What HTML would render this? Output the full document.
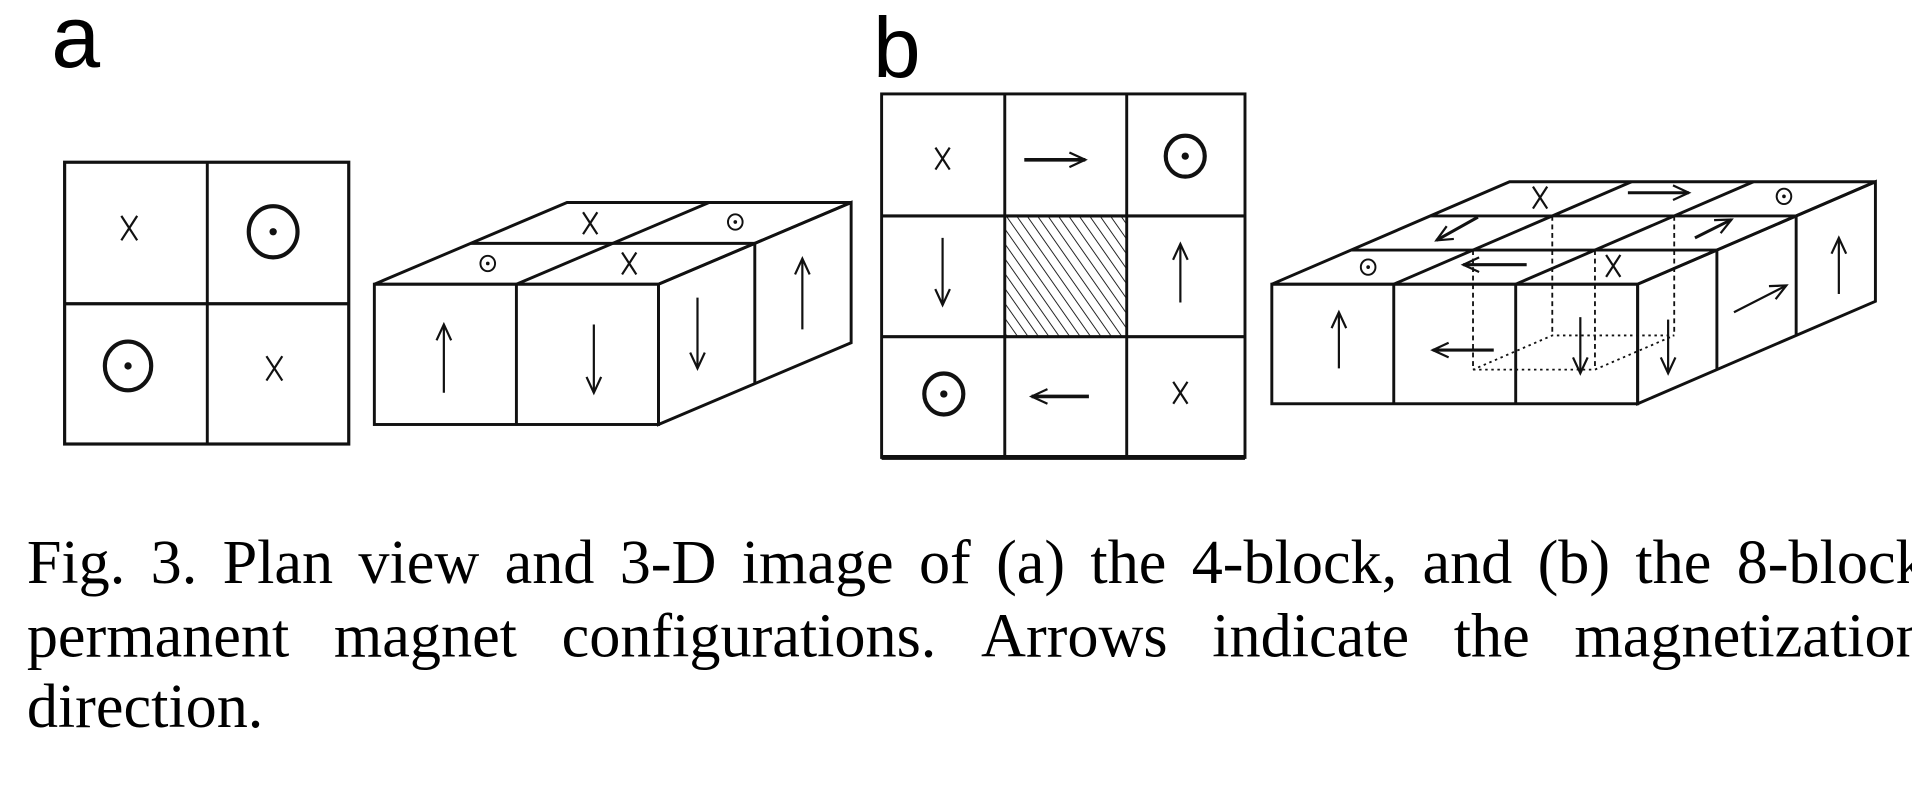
<!DOCTYPE html>
<html><head><meta charset="utf-8"><style>
html,body{margin:0;padding:0;background:#fff;}
svg{display:block;}
</style></head><body>
<svg id="fig" width="1912" height="788" viewBox="0 0 1568 646" preserveAspectRatio="none" xmlns="http://www.w3.org/2000/svg">
<defs>
<pattern id="hatch" patternUnits="userSpaceOnUse" width="7" height="7" patternTransform="rotate(-35)">
<line x1="0" y1="0" x2="0" y2="7" stroke="#222" stroke-width="1.6"/>
</pattern>
</defs>
<rect width="1568" height="646" fill="#fff"/>
<text x="42" y="55" font-family="Liberation Sans, sans-serif" font-size="72">a</text>
<text x="716" y="63" font-family="Liberation Sans, sans-serif" font-size="70">b</text>
<g id="draw" stroke="#111" fill="none" stroke-width="2.4"></g>
<g id="caption" font-family="Liberation Serif, serif" font-size="51" fill="#000"></g>
</svg>
<script>
const NS='http://www.w3.org/2000/svg';
const g=document.getElementById('draw');
function el(tag,attrs,name){const e=document.createElementNS(NS,tag);for(const k in attrs)e.setAttribute(k,attrs[k]);


g.appendChild(e);return e;}
function line(x1,y1,x2,y2,name,extra){const a={x1,y1,x2,y2};if(extra)Object.assign(a,extra);return el('line',a,name);}
function poly(pts,name,extra){const a={points:pts.map(p=>p.join(',')).join(' ')};if(extra)Object.assign(a,extra);return el('polygon',a,name);}
function arrow(x1,y1,x2,y2,name,w){
  const dx=x2-x1,dy=y2-y1,L=Math.hypot(dx,dy),ux=dx/L,uy=dy/L,h=13,s=6;
  line(x1,y1,x2,y2,name,{'stroke-width':w||1.8});
  const p=`M${x2-ux*h-uy*s},${y2-uy*h+ux*s} L${x2},${y2} L${x2-ux*h+uy*s},${y2-uy*h-ux*s}`;
  el('path',{d:p,'stroke-width':1.8},name+'-head');
}
function xmark(x,y,size,name){const s=size;line(x-s*0.65,y-s,x+s*0.65,y+s,name,{'stroke-width':1.8});line(x+s*0.65,y-s,x-s*0.65,y+s,name,{'stroke-width':1.8});}
function dot(x,y,r,name){el('ellipse',{cx:x,cy:y,rx:r,ry:r*1.05,'stroke-width':r>10?3.4:1.6},name);el('circle',{cx:x,cy:y,r:r>10?3:1.5,fill:'#111',stroke:'none'},name+'-center');}

// Panel a plan view
el('rect',{x:53,y:133,width:233,height:231,'stroke-width':2.6},'grid-a-border');
line(170,133,170,364,'grid-a-divider-v');line(53,249,286,249,'grid-a-divider-h',{'stroke-width':2.6});
xmark(106,187,10,'grid-a-cross-tl');dot(224,190,20,'grid-a-dot-tr');dot(105,300,19,'grid-a-dot-bl');xmark(225,302,10,'grid-a-cross-br');

// Panel a 3D
(function(){
 const fx=307,fy=233,fw=233,fh=115,dx=158,dy=-67;
 el('rect',{x:fx,y:fy,width:fw,height:fh,'stroke-width':2.4},'box-a-front');
 line(fx+fw/2,fy,fx+fw/2,fy+fh,'box-a-front-divider');
 poly([[fx,fy],[fx+dx,fy+dy],[fx+fw+dx,fy+dy],[fx+fw,fy]],'box-a-top');
 poly([[fx+fw,fy],[fx+fw+dx,fy+dy],[fx+fw+dx,fy+fh+dy],[fx+fw,fy+fh]],'box-a-right');
 line(fx+dx/2,fy+dy/2,fx+fw+dx/2,fy+dy/2,'box-a-top-mid');
 line(fx+fw/2,fy,fx+fw/2+dx,fy+dy,'box-a-top-divider');
 line(fx+fw+dx/2,fy+dy/2,fx+fw+dx/2,fy+fh+dy/2,'box-a-right-mid');
 xmark(484,183,9,'box-a-top-cross1');dot(603,182,6,'box-a-top-dot1');dot(400,216,6,'box-a-top-dot2');xmark(516,216,9,'box-a-top-cross2');
 arrow(364,322,364,266,'box-a-arrow-up');arrow(487,266,487,322,'box-a-arrow-down');
 arrow(572,244,572,302,'box-a-side-down');arrow(658,270,658,212,'box-a-side-up');
})();

// Panel b plan view
el('rect',{x:824,y:177,width:100,height:99,fill:'url(#hatch)',stroke:'none'},'grid-b-hatched-center');
el('rect',{x:723,y:77,width:298,height:298,'stroke-width':2.4},'grid-b-border');
line(824,77,824,375,'grid-b-col1');line(924,77,924,375,'grid-b-col2');
line(723,177,1021,177,'grid-b-row1',{'stroke-width':2.6});line(723,276,1021,276,'grid-b-row2',{'stroke-width':2.6});
line(723,375,1021,375,'grid-b-bottom',{'stroke-width':4});
xmark(773,130,9,'grid-b-cross-tl');arrow(840,131,890,131,'grid-b-arrow-right',3);dot(972,128,16,'grid-b-dot-tr');
arrow(773,195,773,250,'grid-b-arrow-down');arrow(968,248,968,200,'grid-b-arrow-up');
dot(774,323,16,'grid-b-dot-bl');arrow(893,325,846,325,'grid-b-arrow-left',3);xmark(968,322,9,'grid-b-cross-br');

// Panel b 3D
(function(){
 const fx=1043,fy=233,cw=100,fh=98,dx=195,dy=-84,fw=300;
 el('rect',{x:fx,y:fy,width:fw,height:fh,'stroke-width':2.4},'box-b-front');
 line(fx+cw,fy,fx+cw,fy+fh,'box-b-front-col1');line(fx+2*cw,fy,fx+2*cw,fy+fh,'box-b-front-col2');
 poly([[fx,fy],[fx+dx,fy+dy],[fx+fw+dx,fy+dy],[fx+fw,fy]],'box-b-top');
 poly([[fx+fw,fy],[fx+fw+dx,fy+dy],[fx+fw+dx,fy+fh+dy],[fx+fw,fy+fh]],'box-b-right');
 for(let k=1;k<3;k++){
  line(fx+dx*k/3,fy+dy*k/3,fx+fw+dx*k/3,fy+dy*k/3,'box-b-top-row'+k);
  line(fx+fw+dx*k/3,fy+dy*k/3,fx+fw+dx*k/3,fy+fh+dy*k/3,'box-b-right-col'+k);
  line(fx+k*cw,fy,fx+k*cw+dx,fy+dy,'box-b-top-col'+k);
 }
 const d={'stroke-dasharray':'4,3','stroke-width':1.5};
 const ax=fx+cw+dx/3, ay=fy+dy/3, bx=fx+cw+2*dx/3, by=fy+2*dy/3;
 line(ax,ay,ax,ay+fh,'hidden-edge-1',d);line(bx,by,bx,by+fh,'hidden-edge-2',d);
 line(bx+cw,by,bx+cw,by+fh,'hidden-edge-3',d);line(ax+cw,ay,ax+cw,ay+fh,'hidden-edge-4',d);
 poly([[ax,ay+fh],[ax+cw,ay+fh],[bx+cw,by+fh],[bx,by+fh]],'hidden-bottom',{'stroke-dasharray':'2,3','stroke-width':1.5});
 xmark(1263,162,9,'box-b-top-cross1');arrow(1335,158,1385,158,'box-b-top-arrow-right',2.5);dot(1463,161,6,'box-b-top-dot1');
 arrow(1212,178,1178,197,'box-b-top-arrow-sw',2.5);arrow(1252,217,1200,217,'box-b-top-arrow-left',2.5);arrow(1390,195,1420,180,'box-b-top-arrow-ne',2.5);
 dot(1122,219,6,'box-b-top-dot2');xmark(1323,218,9,'box-b-top-cross2');
 arrow(1098,302,1098,256,'box-b-front-up');arrow(1225,287,1175,287,'box-b-front-left',2.5);
 arrow(1296,260,1296,306,'box-b-front-down1');arrow(1368,262,1368,306,'box-b-front-down2');
 arrow(1422,256,1465,234,'box-b-side-ne');arrow(1508,241,1508,195,'box-b-side-up');
})();

// Caption, justified by word spacing
const capLines=['Fig. 3. Plan view and 3-D image of (a) the 4-block, and (b) the 8-block',
 'permanent magnet configurations. Arrows indicate the magnetization',
 'direction.'];
const capY=[478,538,596];
const cap=document.getElementById('caption');
capLines.forEach((ln,i)=>{
  const words=ln.split(' ');
  const justify=i<2, x0=22, x1=1580;
  const tmp=[];
  words.forEach(w=>{const t=document.createElementNS(NS,'text');t.textContent=w;t.setAttribute('y',capY[i]);
    
    
    cap.appendChild(t);tmp.push(t);});
  const widths=tmp.map(t=>t.getComputedTextLength());
  const total=widths.reduce((a,b)=>a+b,0);
  const gap=justify&&words.length>1?(x1-x0-total)/(words.length-1):12;
  let x=x0;
  tmp.forEach((t,j)=>{t.setAttribute('x',x);x+=widths[j]+gap;});
});
</script>
</body></html>
